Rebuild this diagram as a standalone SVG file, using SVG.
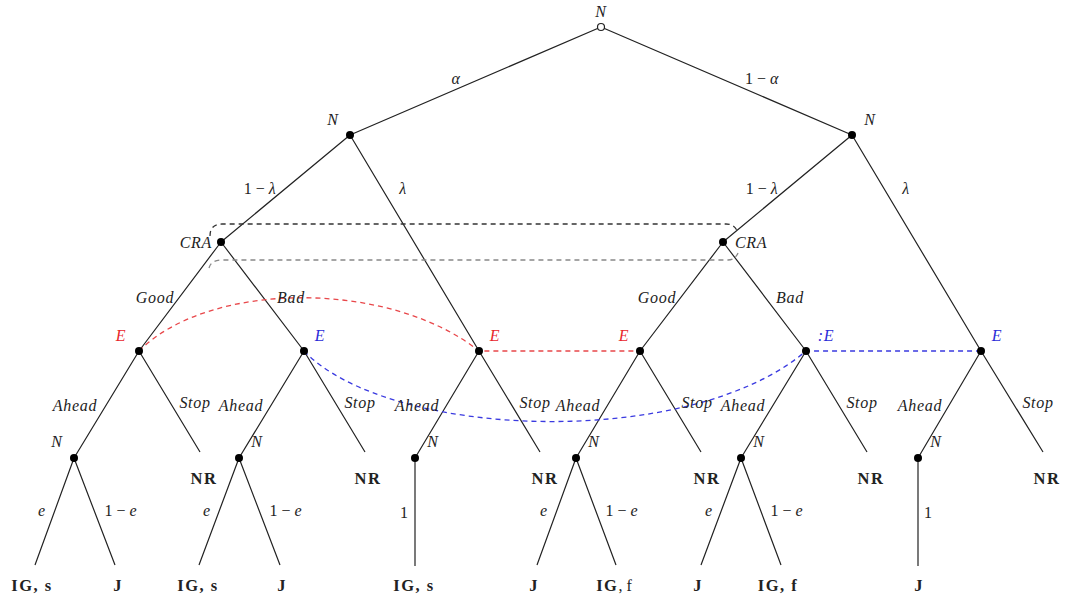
<svg xmlns="http://www.w3.org/2000/svg" width="1067" height="601" viewBox="0 0 1067 601">
<style>
text{font-family:"Liberation Serif","DejaVu Serif",serif;font-size:16px;fill:#222;dominant-baseline:central;text-anchor:middle}
.m{font-style:italic;letter-spacing:0.7px}
.b{font-weight:bold;font-size:16.5px;letter-spacing:1.5px}
.red{fill:#e8262b}
.blue{fill:#2b2bd8}
.e{stroke:#222;stroke-width:1.2;fill:none}
.dot{fill:#000}
.rd{stroke:#e8474a;stroke-width:1.3;stroke-dasharray:5 4;fill:none}
.bd{stroke:#3a3ae0;stroke-width:1.3;stroke-dasharray:5 4;fill:none}
</style>
<rect width="1067" height="601" fill="#fff"/>
<g id="connectors">
<path class="e" d="M601,27 L350,135 M601,27 L852,135"/>
<path class="e" d="M350,135 L221,242 M350,135 L479,351 M852,135 L723,242 M852,135 L981,351"/>
<path class="e" d="M221,242 L139,351 M221,242 L304,351 M723,242 L640,351 M723,242 L806,351"/>
<path class="e" d="M139,351 L74,458 M139,351 L200,452 M304,351 L239,458 M304,351 L365,452 M479,351 L415,458 M479,351 L540,452 M640,351 L576,458 M640,351 L701,452 M806,351 L741,458 M806,351 L867,452 M981,351 L918,458 M981,351 L1043,452"/>
<path class="e" d="M74,458 L35,565 M74,458 L115,565 M239,458 L199,565 M239,458 L280,565 M415,458 L415,566 M576,458 L537,565 M576,458 L616,565 M741,458 L701,565 M741,458 L781,565 M918,458 L918,566"/>
<path d="M210,236 Q210,224 222,224 L726,224 Q735,224 738,233" fill="none" stroke="#333" stroke-width="1.3" stroke-dasharray="5 4"/>
<path d="M209,268 Q211,260 222,260 L728,260 Q735,260 738,253" fill="none" stroke="#888" stroke-width="1.3" stroke-dasharray="5 4"/>
<path class="rd" d="M139,351 C210,280 390,280 479,351 L640,351"/>
<path class="bd" d="M304,351 C390,440 690,450 806,351 L981,351"/>
</g>
<g id="edge-labels">
<text class="m" x="456" y="78">α</text>
<text x="762" y="78">1 − <tspan class="m">α</tspan></text>
<text x="260" y="188">1 − <tspan class="m">λ</tspan></text>
<text class="m" x="403" y="188">λ</text>
<text x="762" y="188">1 − <tspan class="m">λ</tspan></text>
<text class="m" x="906" y="188">λ</text>
<text class="m" x="155" y="297">Good</text>
<text class="m" x="291" y="297">Bad</text>
<text class="m" x="657" y="297">Good</text>
<text class="m" x="790" y="297">Bad</text>
<text class="m" x="75" y="405">Ahead</text>
<text class="m" x="195" y="402">Stop</text>
<text class="m" x="241" y="405">Ahead</text>
<text class="m" x="360" y="402">Stop</text>
<text class="m" x="417" y="405">Ahead</text>
<text class="m" x="535" y="402">Stop</text>
<text class="m" x="578" y="405">Ahead</text>
<text class="m" x="697" y="402">Stop</text>
<text class="m" x="743" y="405">Ahead</text>
<text class="m" x="862" y="402">Stop</text>
<text class="m" x="920" y="405">Ahead</text>
<text class="m" x="1038" y="402">Stop</text>
<text class="m" x="42" y="510">e</text>
<text x="121" y="510">1 − <tspan class="m">e</tspan></text>
<text class="m" x="207" y="510">e</text>
<text x="286" y="510">1 − <tspan class="m">e</tspan></text>
<text x="404" y="512">1</text>
<text class="m" x="544" y="510">e</text>
<text x="622" y="510">1 − <tspan class="m">e</tspan></text>
<text class="m" x="709" y="510">e</text>
<text x="787" y="510">1 − <tspan class="m">e</tspan></text>
<text x="928" y="512">1</text>
</g>
<g id="root"><circle cx="601" cy="27" r="3.5" fill="#fff" stroke="#222" stroke-width="1.2"/><text class="m" x="601" y="11">N</text></g>
<g id="n-left"><circle class="dot" cx="350" cy="135" r="4"/><text class="m" x="333" y="119">N</text></g>
<g id="n-right"><circle class="dot" cx="852" cy="135" r="4"/><text class="m" x="870" y="119">N</text></g>
<g id="cra-left"><circle class="dot" cx="221" cy="242" r="4"/><text class="m" x="212" y="242" style="text-anchor:end">CRA</text></g>
<g id="cra-right"><circle class="dot" cx="723" cy="242" r="4"/><text class="m" x="735" y="242" style="text-anchor:start">CRA</text></g>
<g id="e1"><circle class="dot" cx="139" cy="351" r="4"/><text class="m red" x="121" y="335">E</text></g>
<g id="e2"><circle class="dot" cx="304" cy="351" r="4"/><text class="m blue" x="320" y="335">E</text></g>
<g id="e3"><circle class="dot" cx="479" cy="351" r="4"/><text class="m red" x="495" y="335">E</text></g>
<g id="e4"><circle class="dot" cx="640" cy="351" r="4"/><text class="m red" x="624" y="335">E</text></g>
<g id="e5"><circle class="dot" cx="806" cy="351" r="4"/><text class="m blue" x="826" y="335">:E</text></g>
<g id="e6"><circle class="dot" cx="981" cy="351" r="4"/><text class="m blue" x="997" y="335">E</text></g>
<g id="n1"><circle class="dot" cx="74" cy="458" r="4"/><text class="m" x="57" y="441">N</text></g>
<g id="n2"><circle class="dot" cx="239" cy="458" r="4"/><text class="m" x="257" y="441">N</text></g>
<g id="n3"><circle class="dot" cx="415" cy="458" r="4"/><text class="m" x="433" y="441">N</text></g>
<g id="n4"><circle class="dot" cx="576" cy="458" r="4"/><text class="m" x="594" y="441">N</text></g>
<g id="n5"><circle class="dot" cx="741" cy="458" r="4"/><text class="m" x="759" y="441">N</text></g>
<g id="n6"><circle class="dot" cx="918" cy="458" r="4"/><text class="m" x="936" y="441">N</text></g>
<g id="nr-leaves">
<text class="b" x="204" y="478">NR</text>
<text class="b" x="368" y="478">NR</text>
<text class="b" x="545" y="478">NR</text>
<text class="b" x="707" y="478">NR</text>
<text class="b" x="871" y="478">NR</text>
<text class="b" x="1047" y="478">NR</text>
</g>
<g id="terminal-leaves">
<text class="b" x="32" y="585">IG, s</text>
<text class="b" x="118" y="585">J</text>
<text class="b" x="198" y="585">IG, s</text>
<text class="b" x="282" y="585">J</text>
<text class="b" x="414" y="585">IG, s</text>
<text class="b" x="534" y="585">J</text>
<text x="614" y="585"><tspan class="b">IG</tspan>, f</text>
<text class="b" x="698" y="585">J</text>
<text class="b" x="778" y="585">IG, f</text>
<text class="b" x="919" y="585">J</text>
</g>
</svg>
